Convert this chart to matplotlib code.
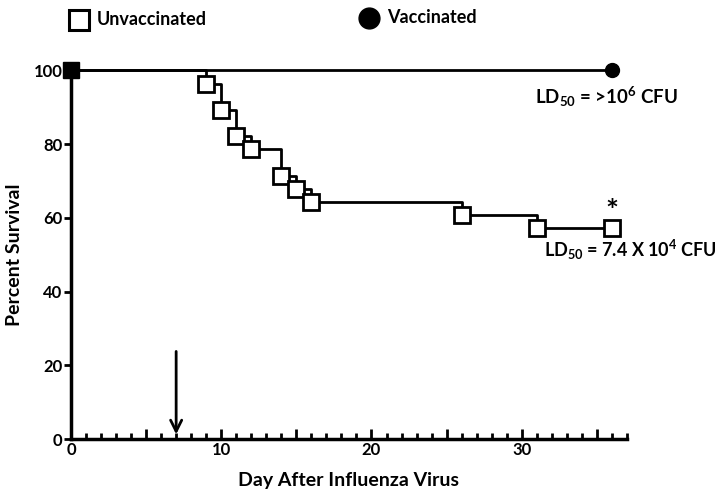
import matplotlib
matplotlib.use("Agg")
import matplotlib.pyplot as plt
from matplotlib.ticker import MultipleLocator, FuncFormatter

plt.rcParams['font.family'] = ['Lato', 'DejaVu Sans']
plt.rcParams['font.weight'] = 'bold'
plt.rcParams['axes.labelweight'] = 'bold'
plt.rcParams['mathtext.fontset'] = 'custom'
plt.rcParams['mathtext.rm'] = 'Lato:bold'
plt.rcParams['mathtext.default'] = 'rm'

# Kaplan-Meier data (28 mice)
unvac_days = [0, 9, 10, 11, 12, 14, 15, 16, 26, 31, 36]
unvac_surv = [100, 96.4, 89.3, 82.1, 78.6, 71.4, 67.9, 64.3, 60.7, 57.1, 57.1]
vac_days = [0, 36]
vac_surv = [100, 100]
arrow_day = 7

fig = plt.figure(figsize=(7.22, 4.91), dpi=100)
ax = fig.add_axes([0.0983, 0.1059, 0.770, 0.751])

ax.plot(vac_days, vac_surv, color='black', lw=2, clip_on=False, zorder=3)
ax.plot(vac_days[-1:], vac_surv[-1:], 'o', color='black', ms=10, clip_on=False, zorder=4)

ax.step(unvac_days, unvac_surv, where='post', color='black', lw=2, clip_on=False, zorder=3)
ax.plot(unvac_days[1:], unvac_surv[1:], 's', mfc='white', mec='black', mew=2, ms=11,
        clip_on=False, zorder=5)
ax.plot(unvac_days[:1], unvac_surv[:1], 's', color='black', ms=11, clip_on=False, zorder=5)

ax.annotate('', xy=(arrow_day, 0.5), xytext=(arrow_day, 24.5),
            arrowprops=dict(arrowstyle='->', lw=2, color='black', mutation_scale=20))

ax.text(30.9, 92.7, r'LD$_{50}$ = >10$^{6}$ CFU', ha='left', va='center', fontsize=13.5)
ax.text(31.5, 51.2, r'LD$_{50}$ = 7.4 X 10$^{4}$ CFU', ha='left', va='center', fontsize=13)
ax.text(36, 61.5, '*', ha='center', va='center', fontsize=22)

ax.set_xlim(0, 37)
ax.set_ylim(0, 100)
ax.xaxis.set_major_locator(MultipleLocator(5))
ax.xaxis.set_minor_locator(MultipleLocator(1))
ax.xaxis.set_major_formatter(FuncFormatter(lambda v, p: '%d' % v if v % 10 == 0 else ''))
ax.yaxis.set_major_locator(MultipleLocator(20))
ax.tick_params(axis='x', which='major', direction='in', length=7, width=2, labelsize=12, pad=2)
ax.tick_params(axis='x', which='minor', direction='in', length=4, width=2)
ax.tick_params(axis='y', direction='out', length=5, width=2, labelsize=12, pad=1)
for s in ['top', 'right']:
    ax.spines[s].set_visible(False)
for s in ['left', 'bottom']:
    ax.spines[s].set_linewidth(2.5)

ax.set_xlabel('Day After Influenza Virus', fontsize=14, labelpad=10)
ax.set_ylabel('Percent Survival', fontsize=14, labelpad=8)

# legend above plot
fig.lines.append(plt.Line2D([0.109], [0.959], marker='s', mfc='white', mec='black', mew=2.2,
                            ms=14, transform=fig.transFigure))
fig.text(0.134, 0.961, 'Unvaccinated', ha='left', va='center', fontsize=13)
fig.lines.append(plt.Line2D([0.511], [0.963], marker='o', color='black', ms=15,
                            transform=fig.transFigure))
fig.text(0.536, 0.965, 'Vaccinated', ha='left', va='center', fontsize=13)

fig.savefig('out.png', dpi=100)
